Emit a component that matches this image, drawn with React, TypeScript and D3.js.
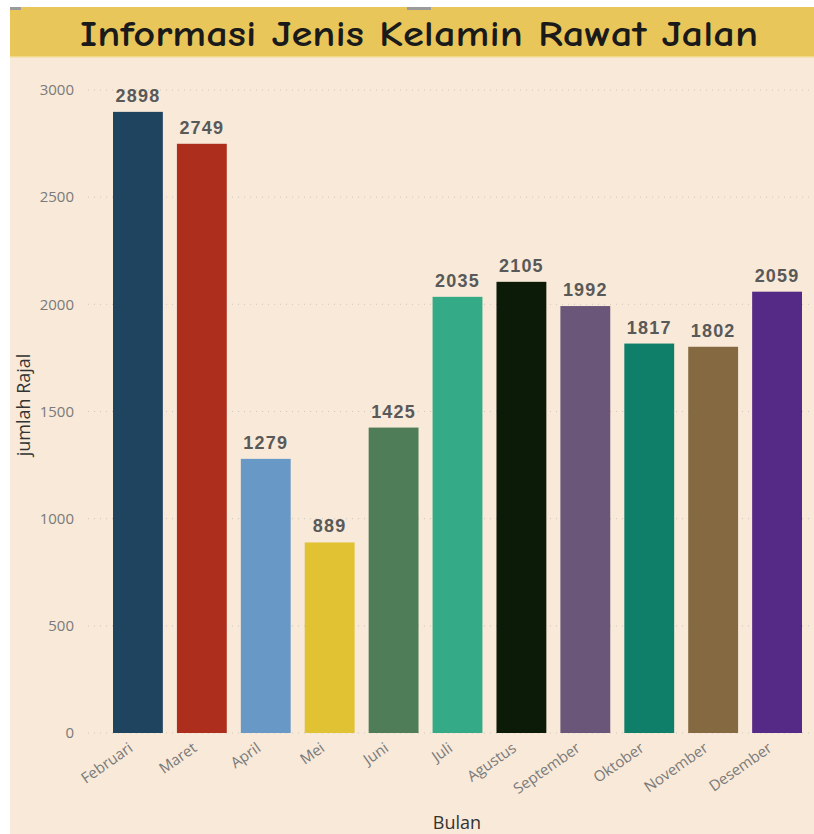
import React from "react";
import * as d3 from "d3";

const months = ["Februari", "Maret", "April", "Mei", "Juni", "Juli", "Agustus", "September", "Oktober", "November", "Desember"];
const values = [2898, 2749, 1279, 889, 1425, 2035, 2105, 1992, 1817, 1802, 2059];
const colors = ["#1F4460", "#AD2E1C", "#6898C6", "#E0C232", "#4F7D58", "#35AA87", "#0C1B07", "#6A5678", "#0F7F69", "#856A41", "#552A87"];
const yTicks = [0, 500, 1000, 1500, 2000, 2500, 3000];
const title = "Informasi Jenis Kelamin Rawat Jalan";
const xTitle = "Bulan";
const yTitle = "jumlah Rajal";

const W = 814;
const H = 834;

export default function App() {
  const x = d3.scaleBand<string>().domain(months).range([113, 802]).paddingInner(0.22).paddingOuter(0);
  const y = d3.scaleLinear().domain([0, 3000]).range([733, 90]);
  const font = "'Segoe UI', 'Open Sans', 'Noto Sans', sans-serif";

  return (
    <svg width={W} height={H} style={{ position: "absolute", left: 0, top: 0 }}>
      <rect x={0} y={0} width={W} height={H} fill="#ffffff" />
      <rect x={10} y={7} width={W - 10} height={H - 7} fill="#F8E9D8" />
      <rect x={10} y={7} width={W - 10} height={50} fill="#E8C65A" />
      <rect x={10} y={56} width={W - 10} height={1.5} fill="#F1D98C" />
      <rect x={10} y={7} width={11} height={3} fill="#9a9a9a" />
      <rect x={407} y={7} width={24} height={3} fill="#9a9a9a" />
      <text
        x={419}
        y={46}
        textAnchor="middle"
        fontFamily="'Comic Sans MS', 'Comic Neue', 'DejaVu Sans', sans-serif"
        fontSize={37}
        fontWeight="bold"
        fill="#1a1a1a"
        textLength={678}
        lengthAdjust="spacingAndGlyphs"
      >
        {title}
      </text>

      {yTicks.map((t) => (
        <g key={t}>
          <line x1={88} x2={812} y1={y(t)} y2={y(t)} stroke="#cfc6bd" strokeWidth={1} strokeDasharray="1 5" />
          <text x={74} y={y(t)} dy="0.35em" textAnchor="end" fontFamily={font} fontSize={15} fill="#7a7a7a">
            {t}
          </text>
        </g>
      ))}

      {months.map((m, i) => (
        <g key={m}>
          <rect x={x(m)} y={y(values[i])} width={x.bandwidth()} height={y(0) - y(values[i])} fill={colors[i]} />
          <text
            x={(x(m) as number) + x.bandwidth() / 2}
            y={y(values[i]) - 10}
            textAnchor="middle"
            fontFamily="'Liberation Sans', Arial, sans-serif"
            fontWeight="bold"
            fontSize={18}
            letterSpacing={1.2}
            fill="#595959"
          >
            {values[i]}
          </text>
          <text
            transform={`translate(${(x(m) as number) + x.bandwidth() / 2 - 7},${746}) rotate(-35)`}
            textAnchor="end"
            dy="0.35em"
            fontFamily={font}
            fontSize={15}
            fill="#7a7a7a"
          >
            {m}
          </text>
        </g>
      ))}

      <text x={457} y={829} textAnchor="middle" fontFamily={font} fontSize={18} fill="#333333">
        {xTitle}
      </text>
      <text transform={`translate(30,405) rotate(-90)`} textAnchor="middle" fontFamily={font} fontSize={18} fill="#333333">
        {yTitle}
      </text>
    </svg>
  );
}
